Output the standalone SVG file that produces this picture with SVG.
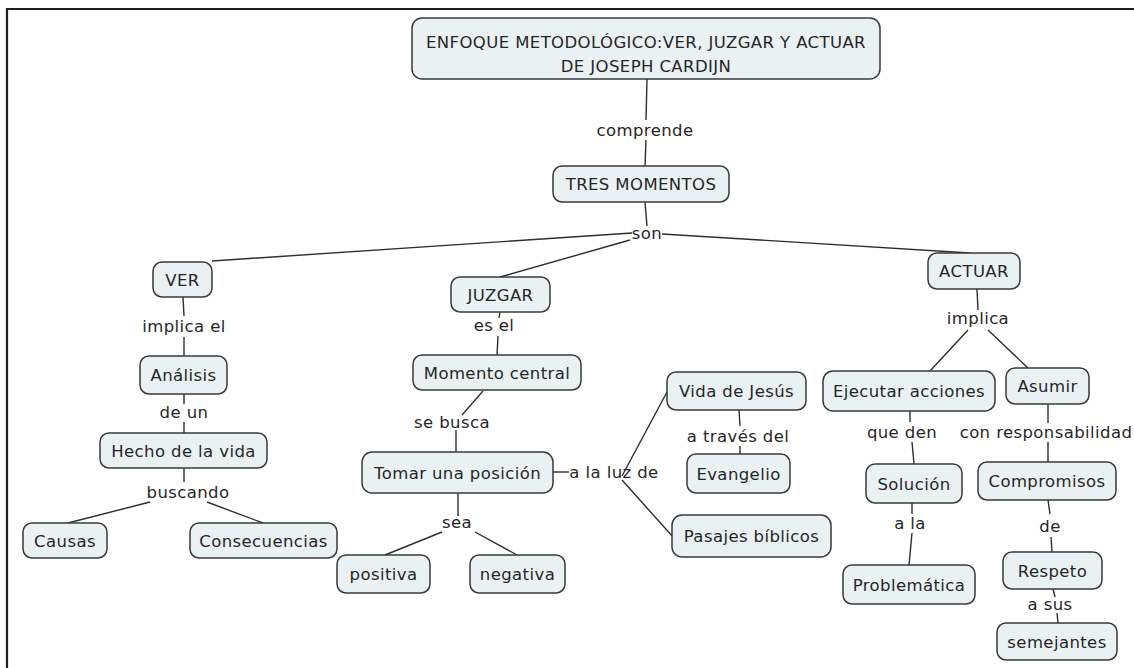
<svg xmlns="http://www.w3.org/2000/svg" width="1134" height="668" viewBox="0 0 1134 668">
<style>
.n rect{fill:#eaf1f3;stroke:#3a3a3a;stroke-width:1.5}
text{font-family:"DejaVu Sans",Verdana,sans-serif;font-size:16.5px;letter-spacing:0.4px;fill:#262626;text-anchor:middle}
.c line{stroke:#2e2e2e;stroke-width:1.4}
</style>
<rect width="1134" height="668" fill="#fff"/>
<path d="M7,668 V9 H1134" fill="none" stroke="#1e1e1e" stroke-width="2.2"/>
<g class="c" id="connectors">
<line x1="647" y1="79" x2="646" y2="120"/><line x1="646" y1="140" x2="645" y2="166"/>
<line x1="645" y1="202" x2="647" y2="226"/>
<line x1="632" y1="233" x2="212" y2="261"/>
<line x1="630" y1="240" x2="500" y2="277"/>
<line x1="662" y1="234" x2="970" y2="253"/>
<line x1="183" y1="297" x2="184" y2="316"/><line x1="184" y1="337" x2="184" y2="356"/>
<line x1="184" y1="394" x2="184" y2="404"/><line x1="184" y1="422" x2="184" y2="433"/>
<line x1="184" y1="468" x2="184" y2="482"/>
<line x1="150" y1="502" x2="68" y2="523"/><line x1="207" y1="502" x2="263" y2="523"/>
<line x1="500" y1="312" x2="499" y2="318"/><line x1="498" y1="336" x2="497" y2="355"/>
<line x1="483" y1="391" x2="462" y2="415"/><line x1="456" y1="430" x2="456" y2="452"/>
<line x1="458" y1="493" x2="458" y2="516"/>
<line x1="442" y1="532" x2="385" y2="555"/><line x1="475" y1="532" x2="517" y2="555"/>
<line x1="553" y1="472" x2="569" y2="472"/>
<line x1="622" y1="476" x2="667" y2="392"/><line x1="622" y1="480" x2="673" y2="537"/>
<line x1="739" y1="410" x2="740" y2="426"/><line x1="740" y1="446" x2="740" y2="454"/>
<line x1="977" y1="289" x2="978" y2="310"/>
<line x1="968" y1="330" x2="930" y2="371"/><line x1="988" y1="330" x2="1028" y2="368"/>
<line x1="910" y1="411" x2="910" y2="422"/><line x1="912" y1="442" x2="914" y2="464"/>
<line x1="1048" y1="404" x2="1048" y2="423"/><line x1="1048" y1="442" x2="1048" y2="462"/>
<line x1="912" y1="503" x2="912" y2="514"/><line x1="912" y1="533" x2="909" y2="565"/>
<line x1="1048" y1="500" x2="1050" y2="514"/><line x1="1051" y1="537" x2="1052" y2="552"/>
<line x1="1053" y1="589" x2="1055" y2="597"/><line x1="1057" y1="613" x2="1058" y2="623"/>
</g>
<g id="labels">
<text x="645" y="136">comprende</text>
<text x="647" y="239">son</text>
<text x="184" y="332">implica el</text>
<text x="184" y="418">de un</text>
<text x="188" y="498">buscando</text>
<text x="494" y="331">es el</text>
<text x="452" y="428">se busca</text>
<text x="457" y="528">sea</text>
<text x="614" y="478">a la luz de</text>
<text x="738" y="442">a través del</text>
<text x="978" y="324">implica</text>
<text x="902" y="438">que den</text>
<text x="1046" y="438">con responsabilidad</text>
<text x="910" y="529">a la</text>
<text x="1050" y="532">de</text>
<text x="1050" y="610">a sus</text>
</g>
<g class="n" id="n-title"><rect x="412" y="18" width="468" height="61" rx="10"/><text x="646" y="48">ENFOQUE METODOLÓGICO:VER, JUZGAR Y ACTUAR</text><text x="646" y="72">DE JOSEPH CARDIJN</text></g>
<g class="n" id="n-tres"><rect x="553" y="166" width="176" height="36" rx="9"/><text x="641" y="190">TRES MOMENTOS</text></g>
<g class="n" id="n-ver"><rect x="153" y="262" width="59" height="35" rx="9"/><text x="182.5" y="285.5">VER</text></g>
<g class="n" id="n-analisis"><rect x="140" y="356" width="87" height="38" rx="9"/><text x="183.5" y="381">Análisis</text></g>
<g class="n" id="n-hecho"><rect x="100" y="433" width="167" height="35" rx="9"/><text x="183.5" y="456.5">Hecho de la vida</text></g>
<g class="n" id="n-causas"><rect x="23" y="523" width="84" height="35" rx="9"/><text x="65" y="546.5">Causas</text></g>
<g class="n" id="n-consecuencias"><rect x="190" y="523" width="147" height="35" rx="9"/><text x="263.5" y="546.5">Consecuencias</text></g>
<g class="n" id="n-juzgar"><rect x="451" y="277" width="99" height="35" rx="9"/><text x="500.5" y="300.5">JUZGAR</text></g>
<g class="n" id="n-momento"><rect x="413" y="355" width="168" height="35" rx="9"/><text x="497" y="378.5">Momento central</text></g>
<g class="n" id="n-tomar"><rect x="362" y="452" width="191" height="41" rx="10"/><text x="457.5" y="478.5">Tomar una posición</text></g>
<g class="n" id="n-positiva"><rect x="337" y="555" width="93" height="38" rx="9"/><text x="383.5" y="580">positiva</text></g>
<g class="n" id="n-negativa"><rect x="470" y="555" width="95" height="38" rx="9"/><text x="517.5" y="580">negativa</text></g>
<g class="n" id="n-vida"><rect x="667" y="372" width="139" height="38" rx="9"/><text x="736.5" y="397">Vida de Jesús</text></g>
<g class="n" id="n-evangelio"><rect x="687" y="454" width="103" height="39" rx="9"/><text x="738.5" y="479.5">Evangelio</text></g>
<g class="n" id="n-pasajes"><rect x="672" y="515" width="159" height="42" rx="10"/><text x="751.5" y="542">Pasajes bíblicos</text></g>
<g class="n" id="n-actuar"><rect x="928" y="253" width="92" height="36" rx="9"/><text x="974" y="277">ACTUAR</text></g>
<g class="n" id="n-ejecutar"><rect x="823" y="371" width="172" height="40" rx="10"/><text x="909" y="397">Ejecutar acciones</text></g>
<g class="n" id="n-asumir"><rect x="1006" y="368" width="83" height="36" rx="9"/><text x="1047.5" y="392">Asumir</text></g>
<g class="n" id="n-solucion"><rect x="866" y="464" width="96" height="39" rx="9"/><text x="914" y="489.5">Solución</text></g>
<g class="n" id="n-problematica"><rect x="843" y="565" width="132" height="39" rx="9"/><text x="909" y="590.5">Problemática</text></g>
<g class="n" id="n-compromisos"><rect x="978" y="462" width="138" height="38" rx="9"/><text x="1047" y="487">Compromisos</text></g>
<g class="n" id="n-respeto"><rect x="1003" y="552" width="99" height="37" rx="9"/><text x="1052.5" y="576.5">Respeto</text></g>
<g class="n" id="n-semejantes"><rect x="997" y="623" width="120" height="37" rx="9"/><text x="1057" y="647.5">semejantes</text></g>
</svg>
